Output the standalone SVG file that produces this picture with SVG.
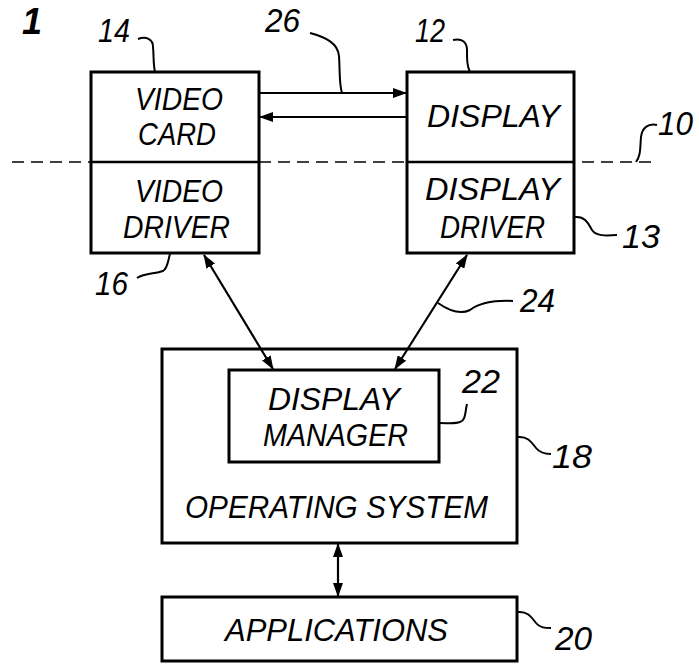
<svg xmlns="http://www.w3.org/2000/svg" width="699" height="664" viewBox="0 0 699 664">
<defs>
<style>
.box{fill:#fff;stroke:#000;stroke-width:3}
.div{stroke:#000;stroke-width:2.5}
.t{font-family:"Liberation Sans",Arial,sans-serif;font-style:italic;font-size:31px;fill:#000}
.n{font-family:"Liberation Sans",Arial,sans-serif;font-style:italic;font-size:33px;fill:#000}
.lead{fill:none;stroke:#000;stroke-width:2}
.con{fill:none;stroke:#000;stroke-width:2.2}
</style>
<marker id="ah" viewBox="0 0 14 10" refX="13" refY="5" markerWidth="14" markerHeight="10" markerUnits="userSpaceOnUse" orient="auto-start-reverse">
<path d="M0,0 L14,5 L0,10 Z" fill="#000"/>
</marker>
</defs>
<rect width="699" height="664" fill="#fff"/>
<text x="22" y="34" font-family="Liberation Sans,Arial,sans-serif" font-style="italic" font-weight="bold" font-size="36">1</text>
<line id="boundary-10" x1="12" y1="162" x2="656" y2="162" stroke="#000" stroke-width="1.6" stroke-dasharray="12 7"/>
<g id="video-card-14">
<rect class="box" x="91" y="72" width="168" height="181"/>
<line class="div" x1="91" y1="162" x2="259" y2="162"/>
<text class="t" x="135" y="110" textLength="88" lengthAdjust="spacingAndGlyphs">VIDEO</text>
<text class="t" x="138" y="145" textLength="78" lengthAdjust="spacingAndGlyphs">CARD</text>
<text class="t" x="135" y="202" textLength="88" lengthAdjust="spacingAndGlyphs">VIDEO</text>
<text class="t" x="123" y="238" textLength="107" lengthAdjust="spacingAndGlyphs">DRIVER</text>
</g>
<g id="display-12">
<rect class="box" x="407" y="72" width="167" height="181"/>
<line class="div" x1="407" y1="162" x2="574" y2="162"/>
<text class="t" x="427" y="127" textLength="133" lengthAdjust="spacingAndGlyphs">DISPLAY</text>
<text class="t" x="425" y="200" textLength="135" lengthAdjust="spacingAndGlyphs">DISPLAY</text>
<text class="t" x="440" y="238" textLength="105" lengthAdjust="spacingAndGlyphs">DRIVER</text>
</g>
<g id="operating-system-18">
<rect class="box" x="162" y="349" width="355" height="194"/>
<text class="t" x="185" y="518" textLength="303" lengthAdjust="spacingAndGlyphs">OPERATING SYSTEM</text>
</g>
<g id="display-manager-22">
<rect class="box" x="229" y="370" width="210" height="92"/>
<text class="t" x="268" y="410" textLength="132" lengthAdjust="spacingAndGlyphs">DISPLAY</text>
<text class="t" x="263" y="446" textLength="145" lengthAdjust="spacingAndGlyphs">MANAGER</text>
</g>
<g id="applications-20">
<rect class="box" x="162" y="597" width="355" height="64"/>
<text class="t" x="225" y="641" textLength="223" lengthAdjust="spacingAndGlyphs">APPLICATIONS</text>
</g>
<g id="connectors">
<line class="con" x1="259" y1="93" x2="406" y2="93" marker-end="url(#ah)"/>
<line class="con" x1="407" y1="117" x2="260" y2="117" marker-end="url(#ah)"/>
<line class="con" x1="204" y1="255" x2="273" y2="369" marker-start="url(#ah)" marker-end="url(#ah)"/>
<line class="con" x1="467" y1="255" x2="395" y2="369" marker-start="url(#ah)" marker-end="url(#ah)"/>
<line class="con" x1="338" y1="544" x2="338" y2="596" stroke-width="3" marker-start="url(#ah)" marker-end="url(#ah)"/>
</g>
<g id="reference-labels">
<text class="n" x="98" y="42" textLength="32" lengthAdjust="spacingAndGlyphs">14</text>
<path class="lead" d="M138,39 C146,36 153,39 153,47 C154,56 153,63 155,72"/>
<text class="n" x="265" y="32" textLength="35" lengthAdjust="spacingAndGlyphs">26</text>
<path class="lead" d="M310,33 C325,37 338,43 339,56 C340,70 339,84 342,93"/>
<text class="n" x="415" y="42" textLength="30" lengthAdjust="spacingAndGlyphs">12</text>
<path class="lead" d="M453,40 C462,38 467,42 467,50 C467,60 467,66 470,72"/>
<text class="n" x="658" y="135" textLength="35" lengthAdjust="spacingAndGlyphs">10</text>
<path class="lead" d="M657,125 C648,123 642,128 641,137 C640,148 641,155 636,162"/>
<text class="n" x="622" y="248" textLength="38" lengthAdjust="spacingAndGlyphs">13</text>
<path class="lead" d="M575,217 C586,216 589,225 592,230 C596,236 605,236 617,235"/>
<text class="n" x="95" y="295" textLength="33" lengthAdjust="spacingAndGlyphs">16</text>
<path class="lead" d="M137,278 C145,273 155,274 163,271 C168,268 168,260 170,254"/>
<text class="n" x="520" y="312" textLength="35" lengthAdjust="spacingAndGlyphs">24</text>
<path class="lead" d="M438,303 C448,310 460,315 470,310 C478,304 490,300 513,301"/>
<text class="n" x="462" y="393" textLength="38" lengthAdjust="spacingAndGlyphs">22</text>
<path class="lead" d="M467,404 C465,412 466,420 460,422 C455,424 448,423 440,423"/>
<text class="n" x="552" y="468" textLength="40" lengthAdjust="spacingAndGlyphs">18</text>
<path class="lead" d="M518,437 C528,436 532,443 536,448 C540,453 545,454 551,454"/>
<text class="n" x="555" y="650" textLength="37" lengthAdjust="spacingAndGlyphs">20</text>
<path class="lead" d="M518,612 C528,611 532,618 536,623 C540,628 545,628 551,628"/>
</g>
</svg>
